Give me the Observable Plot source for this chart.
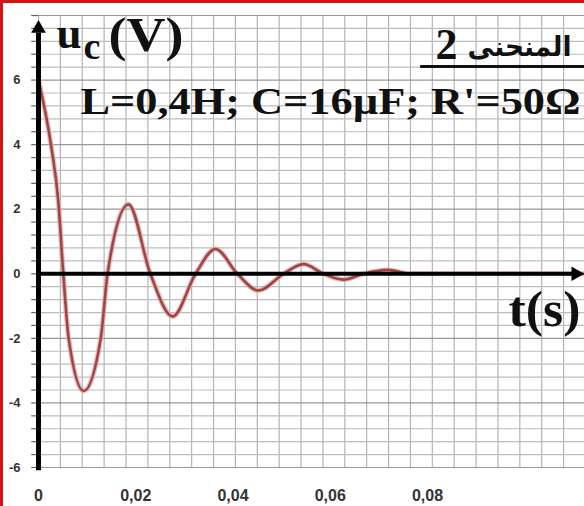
<!DOCTYPE html>
<html>
<head>
<meta charset="utf-8">
<script src="https://cdn.jsdelivr.net/npm/d3@7"></script>
<script src="https://cdn.jsdelivr.net/npm/@observablehq/plot@0.6"></script>
<style>
  html, body { margin: 0; padding: 0; background: #fff; }
  #wrap { position: relative; width: 584px; height: 506px; overflow: hidden; }
  #frame { position: absolute; left: 0; top: 0; width: 584px; height: 506px; box-sizing: border-box;
           border-left: 3px solid #d41414; border-top: 3px solid #d41414; pointer-events: none; }
</style>
</head>
<body>
<div id="wrap"><div id="frame"></div></div>
<script>
// ---- data ----
const tValues = [0, 0.0025, 0.0041, 0.0051, 0.0062, 0.0093, 0.0128, 0.0142, 0.0185, 0.0230, 0.0276,
                 0.0323, 0.0364, 0.0409, 0.0452, 0.0504, 0.0545, 0.0586, 0.0627, 0.0668, 0.0718,
                 0.0765, 0.0900, 0.1123];
const ucValues = [6.0, 4.06, 2.2, 0, -2.0, -3.63, -2.0, 0, 2.15, 0, -1.32,
                  0, 0.77, 0, -0.52, 0, 0.30, 0, -0.18, 0, 0.12,
                  0, 0, 0];
const xTicks = [0, 0.02, 0.04, 0.06, 0.08];
const xTickLabels = ["0", "0,02", "0,04", "0,06", "0,08"];
const yTicks = [6, 4, 2, 0, -2, -4, -6];
const yTickLabels = ["6", "4", "2", "0", "-2", "-4", "-6"];
const yLabel = ["u", "c", "(V)"];
const xLabel = "t(s)";
const paramText = "L=0,4H; C=16µF; R'=50Ω";
const curveTitle = "المنحنى";
const curveNumber = "2";

// ---- build table ----
const points = tValues.map((t, i) => ({t, u: ucValues[i]}));
const tMax = 0.1123;
const gridX = d3.range(0, tMax, 0.0045);
const gridY = d3.range(-6, 8.001, 0.4).map(v => +v.toFixed(2));

const serif = "'Liberation Serif', 'Times New Roman', serif";
const sans = "'Liberation Sans', Arial, sans-serif";
const txt = (s, dx, dy, size, extra = {}) =>
  Plot.text([s], {frameAnchor: "top-left", dx, dy, text: d => d, textAnchor: "start", lineAnchor: "bottom",
                  fontSize: size, fontWeight: "bold", fontFamily: serif, fill: "#111", ...extra});

const chart = Plot.plot({
  width: 584, height: 506,
  marginLeft: 38, marginRight: 0, marginTop: 15, marginBottom: 39,
  x: {domain: [0, tMax], axis: null},
  y: {domain: [-6, 8], axis: null},
  style: {background: "transparent", overflow: "visible"},
  marks: [
    // graph paper
    Plot.ruleX(gridX, {y1: -6, y2: 8, stroke: "#b4b4b4", strokeWidth: 1.2}),
    Plot.ruleY(gridY, {x1: 0, x2: tMax, stroke: (d) => Math.abs(d % 2) < 1e-6 ? "#999" : "#bdbdbd", strokeWidth: 1.2}),
    Plot.ruleY(gridY, {x1: -0.0014, x2: 0, stroke: "#666", strokeWidth: 1.2}),
    // tick labels
    Plot.axisY({ticks: yTicks, tickSize: 0, tickPadding: 18, tickFormat: (d) => yTickLabels[yTicks.indexOf(d)],
                fontSize: 13, fontWeight: "bold", fontFamily: sans, color: "#333", label: null}),
    Plot.axisX({ticks: xTicks, tickSize: 0, tickPadding: 22, tickFormat: (d) => xTickLabels[xTicks.indexOf(d)],
                fontSize: 16, fontWeight: "bold", fontFamily: sans, color: "#333", label: null}),
    // curve (halo + core)
    Plot.line(points, {x: "t", y: "u", curve: "monotone-x", stroke: "#e6a9a9", strokeWidth: 5, strokeOpacity: 0.8}),
    Plot.line(points, {x: "t", y: "u", curve: "monotone-x", stroke: "#9c4646", strokeWidth: 2.6}),
    // axes with arrows
    Plot.ruleY([0], {x1: 0, x2: tMax - 0.0025, stroke: "#000", strokeWidth: 4}),
    Plot.ruleX([0], {y1: -6.1, y2: 7.45, stroke: "#000", strokeWidth: 5}),
    Plot.dot([0], {x: 0, y: 7.6, symbol: "triangle2", r: 7, fill: "#000", stroke: "none"}),
    Plot.dot([0], {x: tMax - 0.0018, y: 0, symbol: "triangle2", r: 7, rotate: 90, fill: "#000", stroke: "none"}),
    // y label  u_c(V)
    txt(yLabel[0], 18, 32, 45),
    txt(yLabel[1], 45, 43, 38),
    txt(yLabel[2], 70, 35, 48),
    // parameters
    txt(paramText, 42, 98, 37),
    // x label
    txt(xLabel, 470, 310, 50),
    // curve title
    txt(curveNumber, 397, 43, 44),
    txt(curveTitle, 429, 40, 28, {fontFamily: "'DejaVu Sans', 'Noto Sans', sans-serif"}),
    Plot.ruleY([6.42], {x1: 0.0786, x2: tMax, stroke: "#111", strokeWidth: 3})
  ]
});
// stretch the hand-lettered texts to the widths seen in the picture
const widths = new Map([[paramText, 500], [yLabel[2], 75], [xLabel, 72], [curveTitle, 104]]);
d3.select(chart).selectAll("text").each(function () {
  const w = widths.get(this.textContent);
  if (w) d3.select(this).attr("textLength", w).attr("lengthAdjust", "spacingAndGlyphs");
});
document.getElementById("wrap").insertBefore(chart, document.getElementById("frame"));
</script>
</body>
</html>
